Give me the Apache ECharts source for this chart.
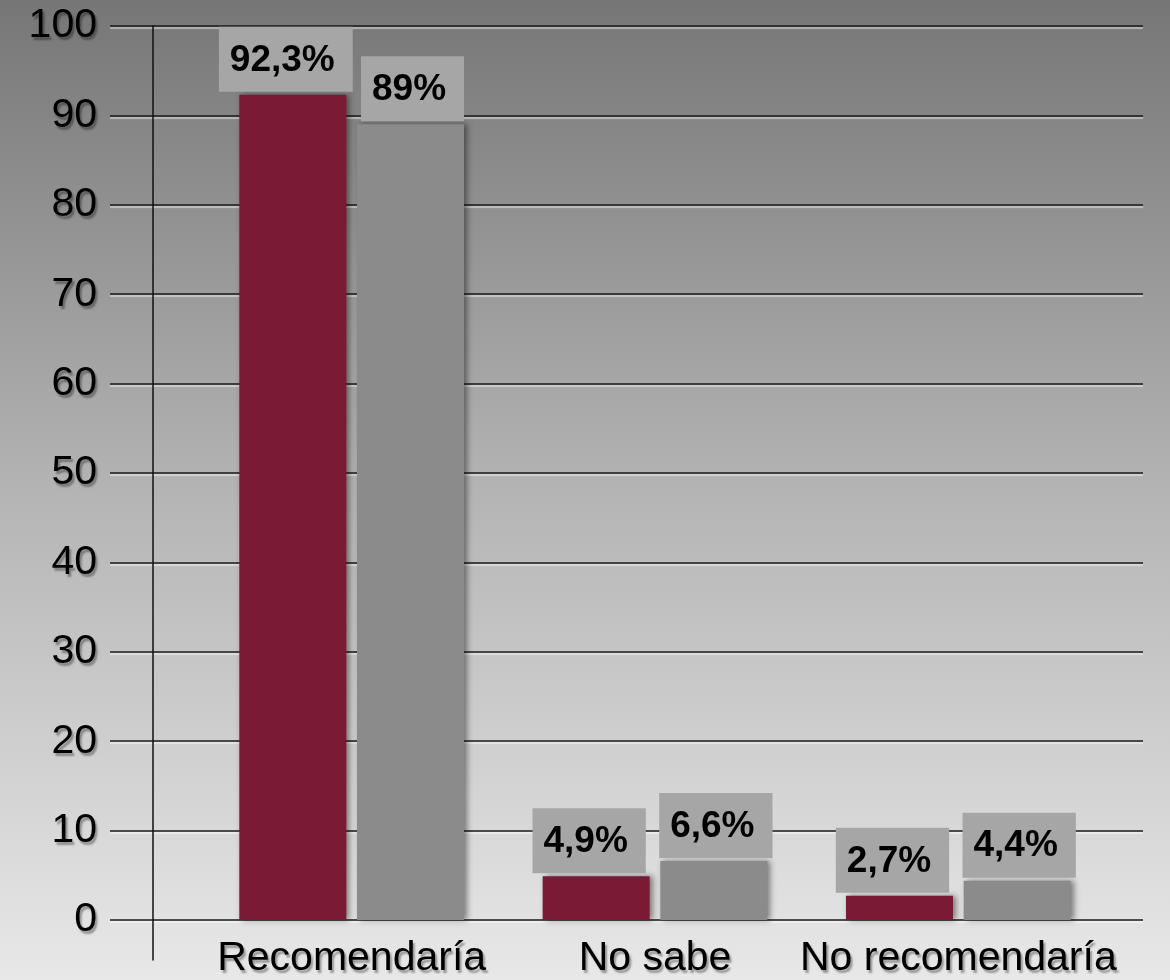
<!DOCTYPE html>
<html>
<head>
<meta charset="utf-8">
<script src="https://cdn.jsdelivr.net/npm/echarts@6/dist/echarts.min.js"></script>
<style>html,body{margin:0;padding:0;}#c{width:1170px;height:980px;}</style>
</head>
<body>
<div id="c"></div>
<script>
const categories = ['Recomendaría', 'No sabe', 'No recomendaría'];
const seriesA = [92.3, 4.9, 2.7];
const seriesB = [89, 6.6, 4.4];
const labelsA = ['92,3%', '4,9%', '2,7%'];
const labelsB = ['89%', '6,6%', '4,4%'];
const yTicks = {min: 0, max: 100, interval: 10};

const chart = echarts.init(document.getElementById('c'));
const shadowText = {
  textShadowColor: 'rgba(0,0,0,0.35)', textShadowOffsetX: 2, textShadowOffsetY: 3, textShadowBlur: 2
};
function lbl(arr, off) {
  return {
    show: true, position: 'top', distance: 3, offset: off,
    formatter: p => arr[p.dataIndex],
    backgroundColor: '#a6a6a6',
    padding: [13, 18, 11, 11],
    color: '#000', fontSize: 37, fontWeight: 'bold',
    fontFamily: 'Liberation Sans, Arial, sans-serif', lineHeight: 41
  };
}
chart.setOption({
  animation: false,
  backgroundColor: {
    type: 'linear', x: 0, y: 0, x2: 0, y2: 1,
    colorStops: [{offset: 0, color: '#767676'}, {offset: 0.5, color: '#b4b4b4'}, {offset: 1, color: '#e8e8e8'}]
  },
  grid: [
    {left: 110, right: 27, top: 26, bottom: 60},
    {left: 200, right: 60, top: 26, bottom: 60},
    {left: 153, width: 10, top: 26, bottom: 20}
  ],
  xAxis: [
    {gridIndex: 0, type: 'value', show: false},
    {gridIndex: 1, type: 'category', data: categories,
     axisLine: {show: false}, axisTick: {show: false},
     axisLabel: Object.assign({interval: 0, hideOverlap: false, margin: 18, fontSize: 41, color: '#000',
       fontFamily: 'Liberation Sans, Arial, sans-serif'}, shadowText)},
    {gridIndex: 2, type: 'value', show: false}
  ],
  yAxis: [
    {gridIndex: 0, type: 'value', min: yTicks.min, max: yTicks.max, interval: yTicks.interval,
     axisLine: {show: false}, axisTick: {show: false},
     axisLabel: Object.assign({margin: 13, fontSize: 41, color: '#000',
       fontFamily: 'Liberation Sans, Arial, sans-serif'}, shadowText),
     splitLine: {lineStyle: {color: '#1a1a1a', width: 1.5,
       shadowColor: 'rgba(255,255,255,0.6)', shadowOffsetY: 2, shadowBlur: 1}}},
    {gridIndex: 1, type: 'value', min: yTicks.min, max: yTicks.max, interval: yTicks.interval, show: false},
    {gridIndex: 2, type: 'value', min: 0, max: 1, show: true,
     axisLine: {show: true, lineStyle: {color: '#111', width: 1.5}},
     axisTick: {show: false}, axisLabel: {show: false}, splitLine: {show: false}}
  ],
  series: [
    {type: 'bar', xAxisIndex: 1, yAxisIndex: 1, data: seriesA, barWidth: 107, barGap: '10%',
     itemStyle: {color: '#7a1a35', shadowColor: 'rgba(0,0,0,0.45)', shadowBlur: 6, shadowOffsetX: 3},
     label: lbl(labelsA, [-7, 0])},
    {type: 'bar', xAxisIndex: 1, yAxisIndex: 1, data: seriesB, barWidth: 107,
     itemStyle: {color: '#8b8b8b', shadowColor: 'rgba(0,0,0,0.45)', shadowBlur: 6, shadowOffsetX: 3},
     label: lbl(labelsB, [2, 0])}
  ]
});
</script>
</body>
</html>
